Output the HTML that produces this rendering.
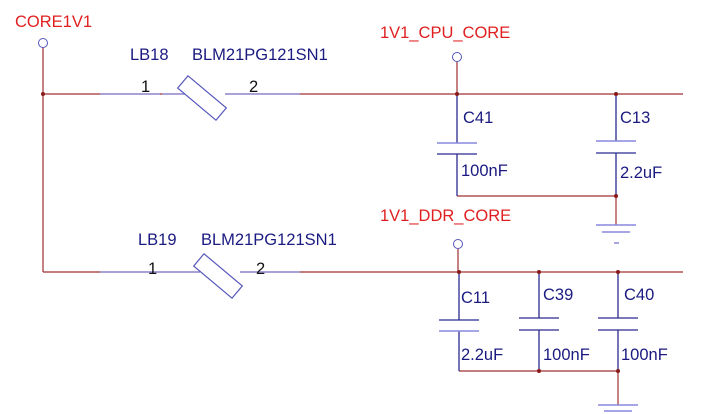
<!DOCTYPE html><html><head><style>body{margin:0;background:#fff}svg{display:block}text{font-family:"Liberation Sans",sans-serif;font-size:16.5px;fill:#1a1a80}.r{fill:#e02020}</style></head><body>
<svg width="705" height="414" viewBox="0 0 705 414">
<g stroke="#a03030" stroke-width="1.2" fill="none">
<line x1="43" y1="47" x2="43" y2="272"/>
<line x1="43" y1="94" x2="683" y2="94"/>
<line x1="43" y1="272" x2="683" y2="272"/>
<line x1="457" y1="62" x2="457" y2="94"/>
<line x1="458" y1="249" x2="458" y2="272"/>
<line x1="457" y1="196" x2="616" y2="196"/>
<line x1="616" y1="196" x2="616" y2="225"/>
<line x1="459" y1="371" x2="618" y2="371"/>
<line x1="618" y1="371" x2="618" y2="405"/>
</g>
<g stroke="#8888dd" stroke-width="1.3">
<line x1="100" y1="94" x2="160" y2="94"/><line x1="162" y1="94" x2="300" y2="94"/>
<line x1="100" y1="272" x2="300" y2="272"/>
</g>
<g stroke="#fff" stroke-width="10"><line x1="185" y1="94" x2="225" y2="94"/><line x1="200" y1="272" x2="240" y2="272"/></g>
<g stroke="#5555bb" stroke-width="1.2" fill="#fff">
<rect x="-25" y="-8" width="50" height="16" transform="translate(202,98) rotate(40)"/>
<rect x="-25" y="-8" width="50" height="16" transform="translate(218,276) rotate(40)"/>
</g>
<g stroke="#2a2a90" stroke-width="1.3">
<line x1="457" y1="94" x2="457" y2="143"/><line x1="457" y1="154" x2="457" y2="196"/>
<line x1="616" y1="94" x2="616" y2="141"/><line x1="616" y1="153" x2="616" y2="196"/>
<line x1="459" y1="272" x2="459" y2="320"/><line x1="459" y1="331" x2="459" y2="371"/>
<line x1="539" y1="272" x2="539" y2="318"/><line x1="539" y1="330" x2="539" y2="371"/>
<line x1="618" y1="272" x2="618" y2="318"/><line x1="618" y1="330" x2="618" y2="371"/>
<line x1="437" y1="154" x2="477" y2="154"/><line x1="596" y1="153" x2="636" y2="153"/>
<line x1="439" y1="320" x2="479" y2="320"/><line x1="519" y1="318" x2="559" y2="318"/><line x1="598" y1="318" x2="638" y2="318"/>
<line x1="519" y1="330" x2="559" y2="330"/><line x1="598" y1="330" x2="638" y2="330"/>
</g>
<g stroke="#8888dd" stroke-width="1.5">
<line x1="437" y1="143" x2="477" y2="143"/><line x1="596" y1="141" x2="636" y2="141"/>
<line x1="439" y1="331" x2="479" y2="331"/>
<line x1="596" y1="225" x2="636" y2="225"/><line x1="602" y1="232" x2="630" y2="232"/><line x1="614" y1="243" x2="619" y2="243"/>
<line x1="598" y1="405" x2="638" y2="405"/><line x1="604" y1="411" x2="632" y2="411"/>
</g>
<g fill="#fff" stroke="#5555bb" stroke-width="1"><circle cx="43" cy="43" r="4.5"/><circle cx="457" cy="57" r="4.5"/><circle cx="458" cy="244" r="4.5"/></g>
<g fill="#8a1a1a"><circle cx="43" cy="94" r="2"/><circle cx="457" cy="94" r="2"/><circle cx="616" cy="94" r="2"/><circle cx="616" cy="196" r="2"/><circle cx="459" cy="272" r="2"/><circle cx="539" cy="272" r="2"/><circle cx="618" cy="272" r="2"/><circle cx="539" cy="371" r="2"/><circle cx="618" cy="371" r="2"/></g>
<text x="15" y="27" class="r">CORE1V1</text>
<text x="380" y="38" class="r">1V1_CPU_CORE</text>
<text x="380" y="221" class="r">1V1_DDR_CORE</text>
<text x="130" y="60">LB18</text><text x="192" y="60">BLM21PG121SN1</text>
<text x="141" y="92" style="fill:#111">1</text><text x="249" y="92" style="fill:#111">2</text>
<text x="138" y="245">LB19</text><text x="201" y="245">BLM21PG121SN1</text>
<text x="148" y="274" style="fill:#111">1</text><text x="256" y="274" style="fill:#111">2</text>
<text x="463" y="123">C41</text><text x="461" y="176">100nF</text>
<text x="620" y="123">C13</text><text x="620" y="178">2.2uF</text>
<text x="461" y="303">C11</text><text x="461" y="360">2.2uF</text>
<text x="543" y="300">C39</text><text x="543" y="360">100nF</text>
<text x="624" y="300">C40</text><text x="621" y="360">100nF</text>
</svg></body></html>
